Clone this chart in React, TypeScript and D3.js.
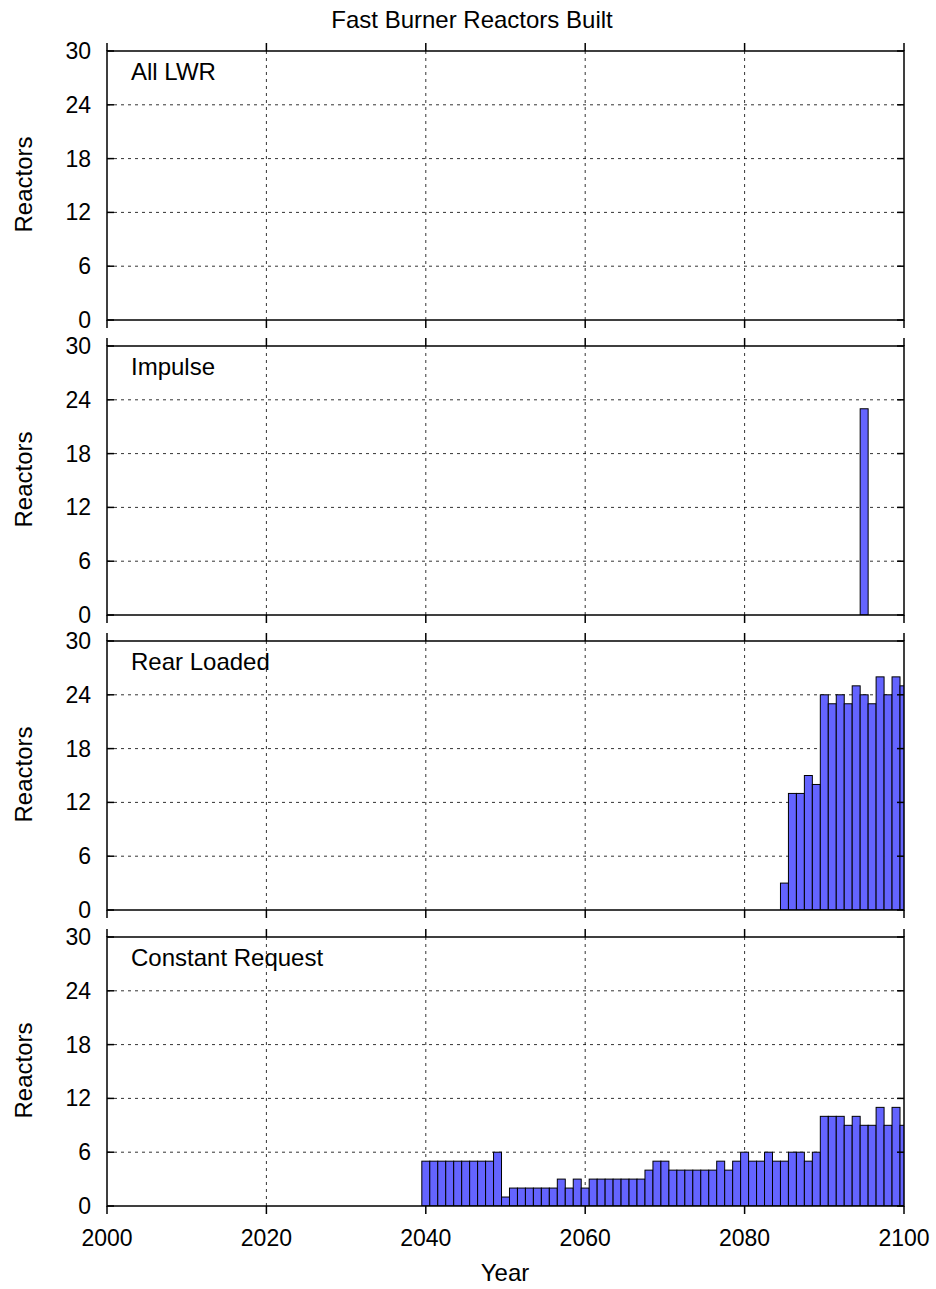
import React from "react";
import * as d3 from "d3";

const title = "Fast Burner Reactors Built";
const xLabel = "Year";
const yLabel = "Reactors";
const xTicks = [2000, 2020, 2040, 2060, 2080, 2100];
const yTicks = [0, 6, 12, 18, 24, 30];

const panelNames = ["All LWR", "Impulse", "Rear Loaded", "Constant Request"];

// start year + consecutive yearly values
const allLwrStart = 2040;
const allLwrValues: number[] = [];

const impulseStart = 2095;
const impulseValues = [23];

const rearLoadedStart = 2085;
const rearLoadedValues = [3, 13, 13, 15, 14, 24, 23, 24, 23, 25, 24, 23, 26, 24, 26, 25];

const constantStart = 2040;
const constantValues = [
  5, 5, 5, 5, 5, 5, 5, 5, 5, 6, // 2040-2049
  1, 2, 2, 2, 2, 2, 2, 3, 2, 3, // 2050-2059
  2, 3, 3, 3, 3, 3, 3, 3, 4, 5, // 2060-2069
  5, 4, 4, 4, 4, 4, 4, 5, 4, 5, // 2070-2079
  6, 5, 5, 6, 5, 5, 6, 6, 5, 6, // 2080-2089
  10, 10, 10, 9, 10, 9, 9, 11, 9, 11, // 2090-2099
  9, // 2100
];

const series = [
  { start: allLwrStart, values: allLwrValues },
  { start: impulseStart, values: impulseValues },
  { start: rearLoadedStart, values: rearLoadedValues },
  { start: constantStart, values: constantValues },
];

const FONT = "'Liberation Sans', Arial, Helvetica, sans-serif";

export default function App() {
  const W = 936;
  const H = 1289;
  const left = 107;
  const right = 904;
  const panelTops = [51, 346, 641, 937];
  const panelH = 269;

  const x = d3.scaleLinear().domain([2000, 2100]).range([left, right]);

  return (
    <svg
      width={W}
      height={H}
      style={{ position: "absolute", left: 0, top: 0, background: "#fff" }}
      fontFamily={FONT}
    >
      <rect x={0} y={0} width={W} height={H} fill="#fff" />
      <text x={472} y={28} fontSize={24} textAnchor="middle" fill="#000">
        {title}
      </text>
      {series.map((s, pi) => {
        const top = panelTops[pi];
        const bottom = top + panelH;
        const y = d3.scaleLinear().domain([0, 30]).range([bottom, top]);
        const clipId = `clip${pi}`;
        const bw = x(1) - x(0);
        return (
          <g key={pi}>
            <defs>
              <clipPath id={clipId}>
                <rect x={left} y={top} width={right - left} height={panelH} />
              </clipPath>
            </defs>
            {/* grid */}
            {yTicks
              .filter((t) => t > 0 && t < 30)
              .map((t) => (
                <line
                  key={"gy" + t}
                  x1={left}
                  x2={right}
                  y1={y(t)}
                  y2={y(t)}
                  stroke="#000"
                  strokeOpacity={0.8}
                  strokeWidth={1}
                  strokeDasharray="3,4"
                />
              ))}
            {xTicks
              .filter((t) => t > 2000 && t < 2100)
              .map((t) => (
                <line
                  key={"gx" + t}
                  x1={x(t)}
                  x2={x(t)}
                  y1={top}
                  y2={bottom}
                  stroke="#000"
                  strokeOpacity={0.8}
                  strokeWidth={1}
                  strokeDasharray="3,4"
                />
              ))}
            {/* bars */}
            <g clipPath={`url(#${clipId})`}>
              {s.values.map((v, i) => {
                const yr = s.start + i;
                if (v <= 0) return null;
                return (
                  <rect
                    key={yr}
                    x={x(yr - 0.5)}
                    y={y(v)}
                    width={bw}
                    height={y(0) - y(v)}
                    fill="#6464ff"
                    stroke="#000"
                    strokeWidth={1}
                  />
                );
              })}
            </g>
            {/* border */}
            <rect
              x={left}
              y={top}
              width={right - left}
              height={panelH}
              fill="none"
              stroke="#000"
              strokeWidth={1.5}
            />
            {/* y ticks */}
            {yTicks.map((t) => (
              <g key={"yt" + t}>
                <line x1={left} x2={left + 7} y1={y(t)} y2={y(t)} stroke="#000" strokeWidth={1.5} />
                <line x1={right - 7} x2={right} y1={y(t)} y2={y(t)} stroke="#000" strokeWidth={1.5} />
                <text
                  x={91}
                  y={y(t) + 8}
                  fontSize={23}
                  textAnchor="end"
                  fill="#000"
                >
                  {t}
                </text>
              </g>
            ))}
            {/* x ticks outward */}
            {xTicks.map((t) => (
              <g key={"xt" + t}>
                <line x1={x(t)} x2={x(t)} y1={top - 8} y2={top} stroke="#000" strokeWidth={1.5} />
                <line x1={x(t)} x2={x(t)} y1={bottom} y2={bottom + 8} stroke="#000" strokeWidth={1.5} />
              </g>
            ))}
            <text x={131} y={top + 29} fontSize={24} fill="#000">
              {panelNames[pi]}
            </text>
            <text
              transform={`translate(${31.5},${(top + bottom) / 2 - 1}) rotate(-90)`}
              fontSize={24}
              textAnchor="middle"
              fill="#000"
            >
              {yLabel}
            </text>
            {pi === 3 &&
              xTicks.map((t) => (
                <text
                  key={"xl" + t}
                  x={x(t)}
                  y={1246}
                  fontSize={23}
                  textAnchor="middle"
                  fill="#000"
                >
                  {t}
                </text>
              ))}
          </g>
        );
      })}
      <text x={505} y={1281} fontSize={24} textAnchor="middle" fill="#000">
        {xLabel}
      </text>
    </svg>
  );
}
